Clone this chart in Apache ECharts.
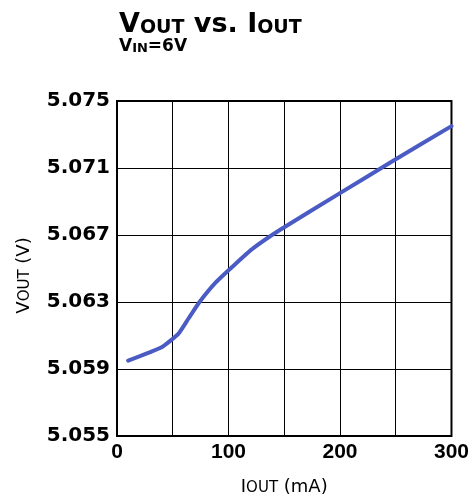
<!DOCTYPE html>
<html>
<head>
<meta charset="utf-8">
<script src="https://cdn.jsdelivr.net/npm/echarts@6/dist/echarts.min.js"></script>
<style>
  html, body { margin: 0; padding: 0; background: #fff; }
  #chart { width: 472px; height: 501px; }
</style>
</head>
<body>
<div id="chart"></div>
<script>
// output current (mA) and output voltage (V)
const iout = [10, 40, 55, 64, 74, 89, 105, 122, 146, 200, 247, 300]
const vout = [5.0595, 5.0603, 5.0611, 5.0620, 5.0630, 5.0642, 5.0652, 5.0662, 5.0673, 5.0695, 5.0714, 5.0735]
const xTickLabels = ['0', '100', '200', '300']
const yTickLabels = ['5.055', '5.059', '5.063', '5.067', '5.071', '5.075']

// y axis is plotted as mV above the lowest tick so ticks start on a multiple of the interval
const BASE = 5.055

const chart = echarts.init(document.getElementById('chart'))
const wide = 'DejaVu Sans'

const options = {
  animation: false,
  title: {
    left: 114,
    top: 6,
    itemGap: 0,
    text: '{v|V}{s|OUT}{v| vs. I}{s|OUT}',
    textStyle: {
      rich: {
        v: { fontFamily: wide, fontWeight: 'bold', fontSize: 27, color: '#000', lineHeight: 27, verticalAlign: 'bottom' },
        s: { fontFamily: wide, fontWeight: 'bold', fontSize: 19, color: '#000', lineHeight: 21, verticalAlign: 'bottom' }
      }
    },
    subtext: '{v|V}{s|IN}{v|=6V}',
    subtextStyle: {
      rich: {
        v: { fontFamily: wide, fontWeight: 'bold', fontSize: 17, color: '#000', lineHeight: 17, verticalAlign: 'bottom' },
        s: { fontFamily: wide, fontWeight: 'bold', fontSize: 13, color: '#000', lineHeight: 8, verticalAlign: 'bottom' }
      }
    }
  },
  grid: {
    left: 117,
    right: 20,
    top: 101,
    bottom: 64,
    show: true,
    borderColor: '#000',
    borderWidth: 2
  },
  xAxis: {
    type: 'value',
    min: 0,
    max: 300,
    interval: 50,
    axisLine: { show: false },
    axisTick: { show: false },
    splitLine: { lineStyle: { color: '#000', width: 1 } },
    axisLabel: {
      margin: 6,
      color: '#000',
      fontFamily: 'Liberation Sans',
      fontWeight: 'bold',
      fontSize: 21,
      formatter: v => (v % 100 === 0 ? xTickLabels[v / 100] : '')
    },
    name: '{a|I}{b|OUT}{a| (mA)}',
    nameLocation: 'middle',
    nameGap: 42,
    nameTextStyle: {
      rich: {
        a: { fontFamily: wide, fontSize: 18, color: '#000', lineHeight: 18, verticalAlign: 'bottom' },
        b: { fontFamily: wide, fontSize: 15, color: '#000', lineHeight: 11, verticalAlign: 'bottom' }
      }
    }
  },
  yAxis: {
    type: 'value',
    min: 0,
    max: 20,
    interval: 4,
    axisLine: { show: false },
    axisTick: { show: false },
    splitLine: { lineStyle: { color: '#000', width: 1 } },
    axisLabel: {
      margin: 7,
      color: '#000',
      fontFamily: wide,
      fontWeight: 'bold',
      fontSize: 20,
      formatter: v => yTickLabels[v / 4]
    },
    name: '{a|V}{b|OUT}{a| (V)}',
    nameLocation: 'middle',
    nameGap: 84,
    nameTextStyle: {
      padding: [0, 14, 0, 0],
      rich: {
        a: { fontFamily: wide, fontSize: 18, color: '#000', lineHeight: 18, verticalAlign: 'bottom' },
        b: { fontFamily: wide, fontSize: 15, color: '#000', lineHeight: 11, verticalAlign: 'bottom' }
      }
    }
  },
  series: [{
    type: 'line',
    data: iout.map((x, i) => [x, (vout[i] - BASE) * 1000]),
    smooth: 0.15,
    showSymbol: false,
    lineStyle: { color: '#4b5bc4', width: 4, cap: 'round', join: 'round' }
  }]
}

chart.setOption(options)
</script>
</body>
</html>
